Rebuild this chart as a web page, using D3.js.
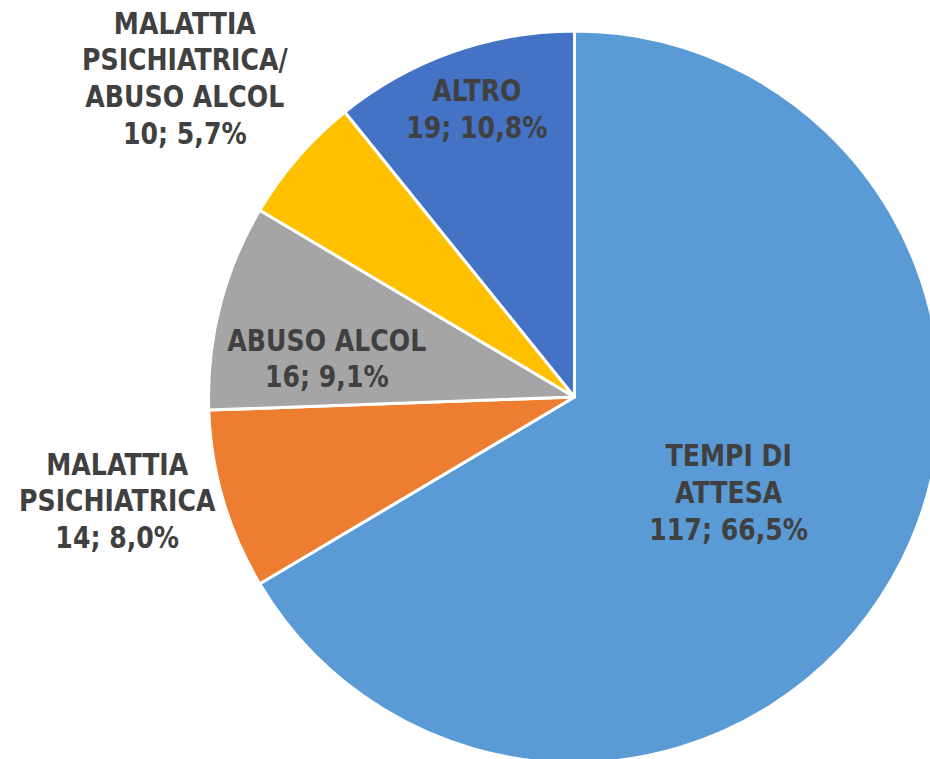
<!DOCTYPE html>
<html>
<head>
<meta charset="utf-8">
<script src="https://cdn.jsdelivr.net/npm/d3@7"></script>
<style>
  html, body { margin: 0; padding: 0; background: #ffffff; overflow: hidden; }
  .lbl { font-family: "DejaVu Sans", sans-serif; font-weight: bold; fill: #404040; }
</style>
</head>
<body>
<div id="chart"></div>
<script>
// Chart data
const categories = ["TEMPI DI ATTESA", "MALATTIA PSICHIATRICA", "ABUSO ALCOL", "MALATTIA PSICHIATRICA/ ABUSO ALCOL", "ALTRO"];
const categoryLines = [["TEMPI DI", "ATTESA"], ["MALATTIA", "PSICHIATRICA"], ["ABUSO ALCOL"], ["MALATTIA", "PSICHIATRICA/", "ABUSO ALCOL"], ["ALTRO"]];
const values = [117, 14, 16, 10, 19];
const colors = ["#5B9BD5", "#ED7D31", "#A5A5A5", "#FFC000", "#4472C4"];

// label placement: radius as fraction of pie radius, angle shift in degrees
const labelRadius = [0.495, 1.281, 0.685, 1.376, 0.831];
const labelShift = [2, 3.6, -5.4, -1.6, 0.7];

const width = 930, height = 759;
const cx = 574.5, cy = 397, radius = 366;
const fontSize = 30, lineHeight = 36.8, squeeze = 0.84;

const svg = d3.select("#chart")
    .append("svg")
    .attr("width", width)
    .attr("height", height);

const g = svg.append("g")
    .attr("transform", `translate(${cx},${cy})`);

const total = d3.sum(values);
const pie = d3.pie().sort(null).value(d => d);
const arcs = pie(values);

const arc = d3.arc().innerRadius(0).outerRadius(radius);

g.selectAll("path.slice")
    .data(arcs)
    .enter()
    .append("path")
    .attr("class", "slice")
    .attr("d", arc)
    .attr("fill", (d, i) => colors[i])
    .attr("stroke", "#ffffff")
    .attr("stroke-width", 3)
    .attr("stroke-linejoin", "round");

const fmtPct = v => (v * 100).toFixed(1).replace(".", ",") + "%";

const labels = g.selectAll("g.label")
    .data(arcs)
    .enter()
    .append("g")
    .attr("class", "label")
    .attr("transform", (d, i) => {
        const a = (d.startAngle + d.endAngle) / 2 + labelShift[i] * Math.PI / 180;
        const r = labelRadius[i] * radius;
        return `translate(${r * Math.sin(a)},${-r * Math.cos(a)}) scale(${squeeze},1)`;
    });

labels.each(function(d, i) {
    const lines = categoryLines[i].concat([`${values[i]}; ${fmtPct(values[i] / total)}`]);
    const n = lines.length;
    const t = d3.select(this).append("text")
        .attr("class", "lbl")
        .attr("text-anchor", "middle")
        .style("font-size", fontSize + "px");
    lines.forEach((line, k) => {
        t.append("tspan")
            .attr("x", 0)
            .attr("y", (k - (n - 1) / 2) * lineHeight + fontSize * 0.36)
            .text(line);
    });
});
</script>
</body>
</html>
